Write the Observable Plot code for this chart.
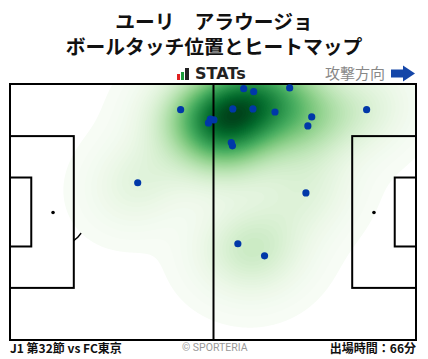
<!DOCTYPE html>
<html><head><meta charset="utf-8">
<script src="https://cdn.jsdelivr.net/npm/d3@7"></script>
<script src="https://cdn.jsdelivr.net/npm/@observablehq/plot@0.6"></script>
<style>
body{margin:0;background:#fff;font-family:"Noto Sans CJK JP","Noto Sans",sans-serif;}
#wrap{position:relative;width:428px;height:359px;overflow:hidden;background:#fff;}
.t{position:absolute;left:0;width:428px;text-align:center;font-weight:700;font-size:19.8px;color:#111;line-height:1;white-space:nowrap;}
.abs{position:absolute;line-height:1;white-space:nowrap;}
#chart{position:absolute;left:0;top:83px;}
</style></head>
<body><div id="wrap">
<div class="t" style="top:11px;height:20px">ユーリ　アラウージョ</div>
<div class="t" style="top:36px;height:20px">ボールタッチ位置とヒートマップ</div>
<div class="abs" style="left:177px;top:74px;width:3px;height:6px;background:#e02020"></div>
<div class="abs" style="left:181px;top:72px;width:3px;height:8px;background:#1a9a3a"></div>
<div class="abs" style="left:185px;top:68px;width:4px;height:12px;background:#222"></div>
<div class="abs" style="left:195px;top:66px;font-family:'DejaVu Sans';font-weight:700;font-size:16.5px;color:#222;transform:scaleX(0.97);transform-origin:left">STATs</div>
<div class="abs" style="left:325px;top:65px;font-size:15px;color:#888">攻撃方向</div>
<svg class="abs" style="left:390px;top:65px" width="26" height="17"><path d="M1,4.5H13V0.5L25,8.5L13,16.5V12.5H1Z" fill="#1446a8"/></svg>
<div id="chart"></div>
<div class="abs" style="left:10px;top:342px;font-size:12px;font-weight:700;color:#111">J1 第32節 vs FC東京</div>
<div class="abs" style="left:182px;top:343px;font-size:10.5px;color:#999;font-family:Roboto,'Noto Sans',sans-serif">© SPORTERIA</div>
<div class="abs" style="right:12px;top:342px;font-size:12px;font-weight:700;color:#111">出場時間：66分</div>
</div>
<script>
// ball touch positions in metres (x: along pitch, attacking right; y: from top touchline)
const touchX = [44.0, 51.2, 51.7, 52.6, 60.3, 62.9, 72.2, 57.5, 62.7, 68.4, 57.1, 57.4, 77.9, 76.9, 92.1, 32.9, 76.4, 58.8, 65.7];
const touchY = [6.7, 10.2, 9.2, 9.4, 1.1, 1.9, 0.9, 6.5, 6.5, 7.3, 15.4, 16.3, 8.6, 11.0, 6.7, 26.1, 28.8, 42.3, 45.5];

// pitch geometry (metres)
const pitchLength = 105, pitchWidth = 68;
const outline = [{x1: 0, x2: 105, y1: 0, y2: 68}];
const penaltyAreas = [{x1: 0, x2: 16.5, y1: 13.84, y2: 54.16}, {x1: 88.5, x2: 105, y1: 13.84, y2: 54.16}];
const goalAreas = [{x1: 0, x2: 5.5, y1: 24.84, y2: 43.16}, {x1: 99.5, x2: 105, y1: 24.84, y2: 43.16}];
const halfway = [52.5];
const spots = [{x: 11, y: 34}, {x: 94, y: 34}];
const centre = [{x: 52.5, y: 34}];

const touches = touchX.map((x, i) => ({x, y: touchY[i]}));

// Gaussian KDE of the touches (Scott's rule, full covariance)
const lowestFraction = 0.009, levelCount = 80;
const n = touchX.length;
const mx = d3.mean(touchX), my = d3.mean(touchY);
let sxx = 0, syy = 0, sxy = 0;
for (let i = 0; i < n; i++) {
  const dx = touchX[i] - mx, dy = touchY[i] - my;
  sxx += dx * dx; syy += dy * dy; sxy += dx * dy;
}
const f2 = Math.pow(n, -1 / 3);
const ca = sxx / (n - 1) * f2, cb = sxy / (n - 1) * f2, cc = syy / (n - 1) * f2;
const det = ca * cc - cb * cb;
const ia = cc / det, ib = -cb / det, ic = ca / det;
function kde(x, y) {
  let s = 0;
  for (let i = 0; i < n; i++) {
    const dx = x - touchX[i], dy = y - touchY[i];
    s += Math.exp(-0.5 * (ia * dx * dx + 2 * ib * dx * dy + ic * dy * dy));
  }
  return s;
}
let peak = 0;
for (let gx = 0; gx <= pitchLength; gx += 0.5) for (let gy = 0; gy <= pitchWidth; gy += 0.5) {
  const v = kde(gx, gy); if (v > peak) peak = v;
}
const low = peak * lowestFraction;
const thresholds = d3.range(levelCount).map(i => low + (peak - low) * i / levelCount);

const chart = Plot.plot({
  width: 428, height: 258,
  marginLeft: 10, marginRight: 12, marginTop: 1, marginBottom: 1,
  x: {domain: [0, pitchLength], axis: null},
  y: {domain: [0, pitchWidth], axis: null, reverse: true},
  color: {type: "linear", scheme: "greens"},
  marks: [
    Plot.dot(spots, {x: "x", y: "y", r: 35, stroke: "black", strokeWidth: 1.5, fill: "none"}),
    Plot.dot(centre, {x: "x", y: "y", r: 35, stroke: "black", strokeWidth: 1.5, fill: "none"}),
    Plot.rect(penaltyAreas, {x1: "x1", x2: "x2", y1: "y1", y2: "y2", fill: "white"}),
    Plot.contour({x1: 0, x2: pitchLength, y1: 0, y2: pitchWidth, fill: kde, thresholds, stroke: "none", pixelSize: 1}),
    Plot.rect(outline, {x1: "x1", x2: "x2", y1: "y1", y2: "y2", fill: "none", stroke: "black", strokeWidth: 2}),
    Plot.rect(penaltyAreas, {x1: "x1", x2: "x2", y1: "y1", y2: "y2", fill: "none", stroke: "black", strokeWidth: 2}),
    Plot.rect(goalAreas, {x1: "x1", x2: "x2", y1: "y1", y2: "y2", fill: "none", stroke: "black", strokeWidth: 2}),
    Plot.ruleX(halfway, {stroke: "black", strokeWidth: 2}),
    Plot.dot(spots, {x: "x", y: "y", r: 1.8, fill: "black"}),
    Plot.dot(touches, {x: "x", y: "y", r: 3.6, fill: "#0038a8"})
  ]
});
document.getElementById("chart").appendChild(chart);
</script>
</body></html>
